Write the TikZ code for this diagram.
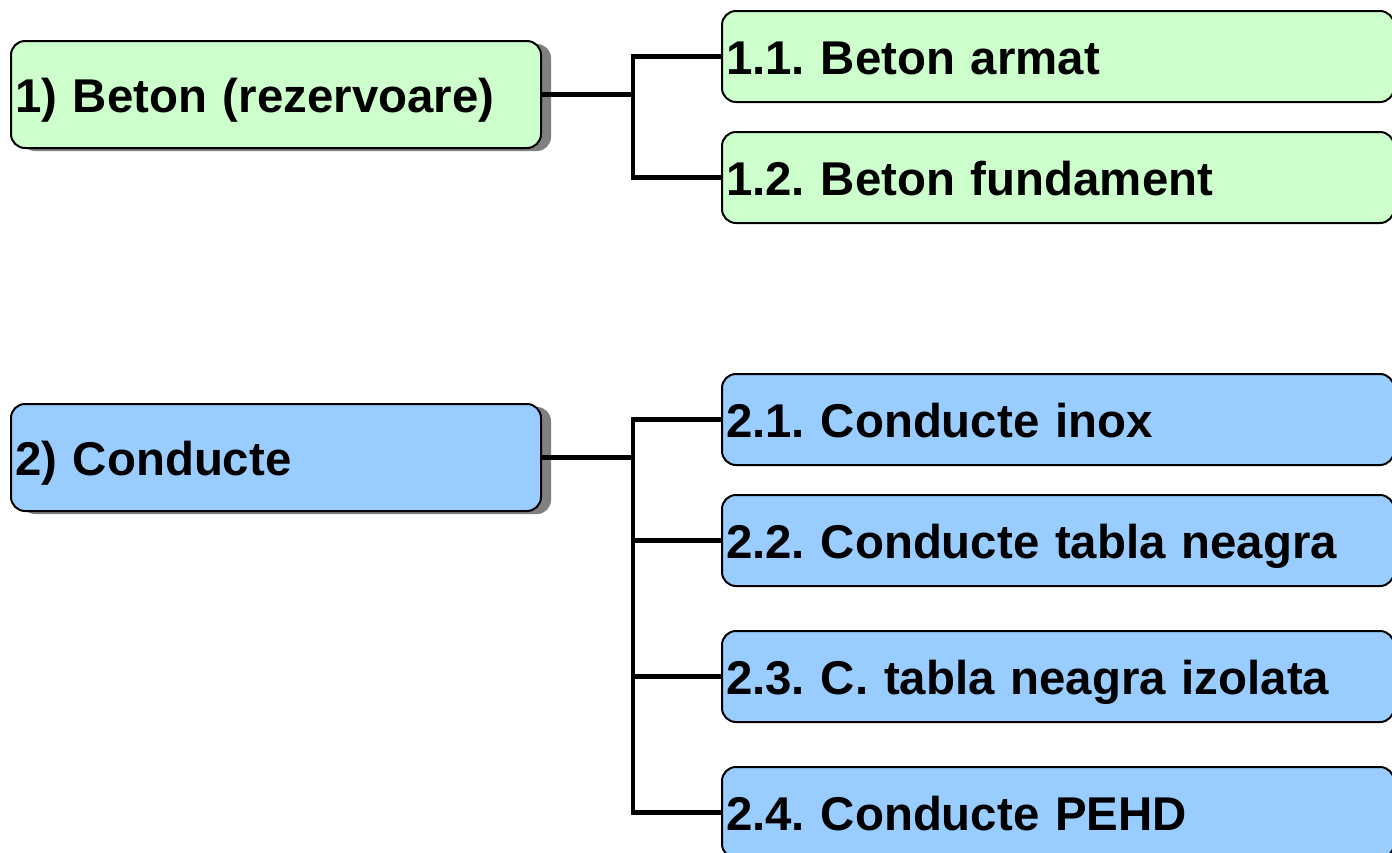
\documentclass[tikz,border=0pt]{standalone}
\usepackage{fontspec}
\setmainfont{Liberation Sans}
\usetikzlibrary{shadows}
\definecolor{verde}{HTML}{CCFFCC}
\definecolor{albastru}{HTML}{99CCFF}
\frenchspacing
\tikzset{
	cutie/.style={draw=black, line width=1pt, rounded corners=7pt, anchor=north west,
		inner xsep=2pt, inner ysep=0pt, align=left, text height=18pt, text depth=0pt,
		font=\fontsize{23.7}{28}\selectfont\bfseries},
	mare/.style={cutie, text width=261pt, minimum height=53.5pt,
		drop shadow={shadow xshift=5pt, shadow yshift=-1.5pt, fill=black!50, opacity=1}},
	mic/.style={cutie, text width=332pt, minimum height=45.5pt},
	leg/.style={line width=2.4pt}
}
\begin{document}
\begin{tikzpicture}[x=0.5pt, y=-0.5pt]
				\clip (0,0) rectangle (1392,852);
				% grupa 1
				\node[mare, fill=verde] (beton) at (10,40) {1) Beton (rezervoare)};
				\node[mic, fill=verde] (b1) at (721,10) {1.1. Beton armat};
				\node[mic, fill=verde] (b2) at (721,131) {1.2. Beton fundament};
				\draw[leg] (beton.east) -- ++(91,0) coordinate (f1);
				\foreach \n in {b1,b2}
					\draw[leg] (f1) |- (\n.west);
				% grupa 2
				\node[mare, fill=albastru] (conducte) at (10,403) {2) Conducte};
				\node[mic, fill=albastru] (c1) at (721,373) {2.1. Conducte inox};
				\node[mic, fill=albastru] (c2) at (721,494) {2.2. Conducte tabla neagra};
				\node[mic, fill=albastru] (c3) at (721,630) {2.3. C. tabla neagra izolata};
				\node[mic, fill=albastru] (c4) at (721,766) {2.4. Conducte PEHD};
				\draw[leg] (conducte.east) -- ++(91,0) coordinate (f2);
				\foreach \n in {c1,c2,c3,c4}
					\draw[leg] (f2) |- (\n.west);
			\end{tikzpicture}
\end{document}
